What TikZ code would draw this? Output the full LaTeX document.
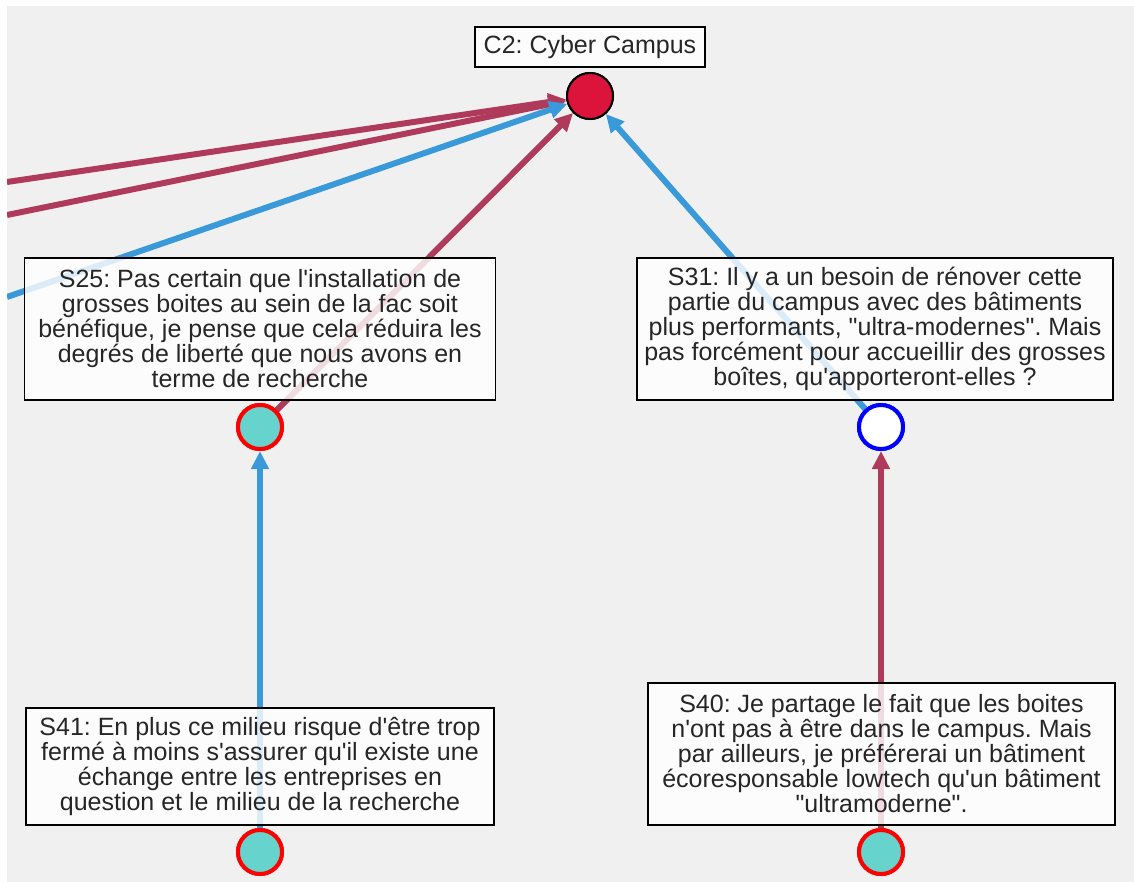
\documentclass[tikz,border=0pt]{standalone}
\usepackage{fontspec}
\setmainfont{Liberation Sans}[Ligatures=TeXOff]
\frenchspacing
\usetikzlibrary{arrows.meta}
\definecolor{bgc}{HTML}{F0F0F0}
\definecolor{maroon}{HTML}{B03A5B}
\definecolor{blueedge}{HTML}{3A9AD9}
\definecolor{crim}{HTML}{DC143C}
\definecolor{turq}{HTML}{66D3CC}
\definecolor{txt}{HTML}{262626}
\tikzset{
  textbox/.style={draw=black, line width=1.3pt, fill=white, fill opacity=0.82, text opacity=1,
    text=txt, align=center, inner sep=0pt, font=\fontsize{25}{25}\selectfont},
  stmt/.style={circle, draw=red, line width=4pt, fill=turq, minimum size=44pt, inner sep=0pt},
  stmtw/.style={circle, draw=blue, line width=4pt, fill=white, minimum size=44pt, inner sep=0pt},
  claim/.style={circle, draw=black, line width=2pt, fill=crim, minimum size=46pt, inner sep=0pt},
  con/.style={draw=maroon, line width=6pt, -{Triangle[length=18pt,width=17pt]}},
  pro/.style={draw=blueedge, line width=6pt, -{Triangle[length=18pt,width=17pt]}},
}
\begin{document}
\begin{tikzpicture}[x=1pt,y=-1pt]
\useasboundingbox (0,0) rectangle (1134,882);
\fill[white] (0,0) rectangle (1134,882);
\fill[bgc] (7,6) rectangle (1134,882);
\begin{scope}
\clip (7,6) rectangle (1134,882);
\coordinate (l1) at (7,182);
\coordinate (l2) at (7,215);
\coordinate (l3) at (7,297);
\node[claim] (c2) at (590,96) {};
\node[stmt] (s25) at (260,427) {};
\node[stmtw] (s31) at (881,427) {};
\node[stmt] (s41) at (260,852) {};
\node[stmt] (s40) at (881,852) {};
% edges
\draw[con] (l1) -- (c2);
\draw[con] (l2) -- (c2);
\draw[pro] (l3) -- (c2);
\draw[con] (s25.center) -- (c2);
\draw[pro] (s31.center) -- (c2);
\draw[pro] (s41.center) -- (s25);
\draw[con] (s40.center) -- (s31);
% boxes
\node[textbox, minimum width=230pt, minimum height=40pt] (t2) at (590,47) {C2: Cyber Campus};
\node[textbox, minimum width=471pt, minimum height=142pt] (t25) at (260,329)
  {S25: Pas certain que l'installation de\\grosses boites au sein de la fac soit\\b\'en\'efique, je pense que cela r\'eduira les\\degr\'es de libert\'e que nous avons en\\terme de recherche};
\node[textbox, minimum width=476pt, minimum height=142pt] (t31) at (875,329)
  {S31: Il y a un besoin de r\'enover cette\\partie du campus avec des b\^atiments\\plus performants, "ultra-modernes". Mais\\pas forc\'ement pour accueillir des grosses\\bo\^ites, qu'apporteront-elles ?};
\node[textbox, minimum width=468pt, minimum height=117pt] (t41) at (260,766.5)
  {S41: En plus ce milieu risque d'\^etre trop\\ferm\'e \`a moins s'assurer qu'il existe une\\\'echange entre les entreprises en\\question et le milieu de la recherche};
\node[textbox, minimum width=467pt, minimum height=142pt] (t40) at (881.5,754)
  {S40: Je partage le fait que les boites\\n'ont pas \`a \^etre dans le campus. Mais\\par ailleurs, je pr\'ef\'ererai un b\^atiment\\\'ecoresponsable lowtech qu'un b\^atiment\\"ultramoderne".};
% circles on top
\node[claim] at (c2) {};
\node[stmt] at (s25) {};
\node[stmtw] at (s31) {};
\node[stmt] at (s41) {};
\node[stmt] at (s40) {};
\end{scope}
\end{tikzpicture}
\end{document}
